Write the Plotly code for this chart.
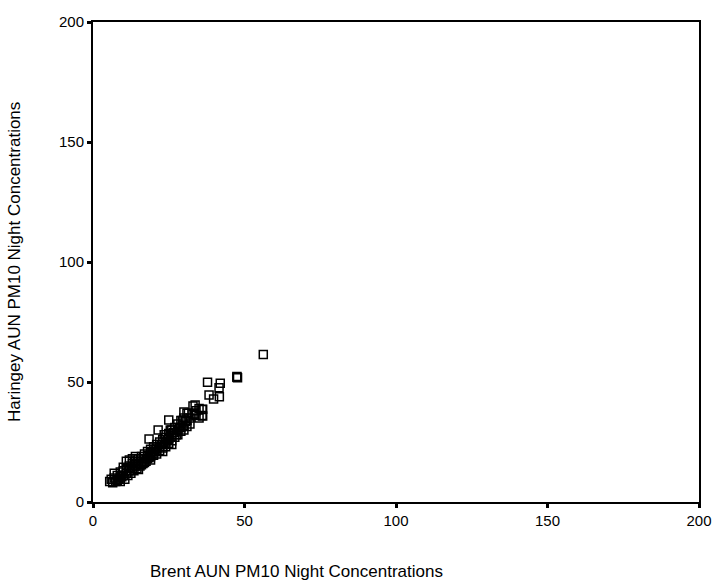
import plotly.graph_objects as go

brent = [5.5, 6, 6.5, 7, 7.5, 8, 8, 8.5, 9, 9, 9.5, 10, 10, 10.5, 11, 11, 11, 11.5, 12, 12, 12, 12.5,
         13, 13, 13, 13.5, 14, 14, 14, 14.5, 15, 15, 15, 15.5, 16, 16, 16, 16.5, 17, 17, 17, 17.5,
         18, 18, 18, 18.5, 18.5, 19, 19, 19, 19.5, 20, 20, 20, 20.5, 21, 21, 21, 21.5, 22, 22, 22,
         22.5, 23, 23, 23, 23.5, 24, 24, 24, 24.5, 25, 25, 25, 25, 25.5, 26, 26, 26, 26.5, 27, 27, 27,
         27.5, 28, 28, 28, 28.5, 29, 29, 29, 30, 30, 30, 30.5, 31, 31, 31, 32, 32, 33, 33, 34, 34, 35,
         35, 36, 36, 30, 29.5, 31.5, 37.8, 42, 41.6, 38.3, 39.8, 41.7, 47.5, 47.5, 47.7, 56.2,
         33.7, 36.2, 36.2, 33.6, 7, 9, 10, 12, 14, 16, 19, 21, 23, 26]
haringey = [8.5, 9.5, 8, 10, 8.5, 9, 11, 9.5, 8.5, 12.5, 10.5, 11, 13, 9.5, 12, 14, 17, 11, 13, 15, 17.5, 12,
            14, 16, 18, 13, 15, 17, 19, 14, 13.5, 16, 18, 15, 15.5, 17, 19, 16, 16.5, 18, 20, 17,
            18, 19.5, 21, 26.3, 18.5, 19, 20.5, 22, 20, 19.5, 21, 23, 22, 21, 22.5, 24, 30, 21.5, 23, 25,
            24, 22.5, 24, 26, 28, 23, 25, 27, 26, 34.2, 24.5, 26.5, 28.5, 30, 25.5, 27.5, 30, 29, 27, 29, 31,
            28, 28, 30, 32.5, 31, 29.5, 31, 34, 30, 32, 35, 33.5, 31.5, 34, 37, 32.5, 35, 36.5, 40, 36, 38, 35,
            39, 38.5, 36, 37.5, 34, 37, 49.9, 49.5, 47.6, 44.6, 42.9, 43.9, 52, 52.3, 51.8, 61.5,
            40.4, 38.6, 35.8, 36.7, 12, 10, 14.5, 14, 16, 18, 17.5, 20, 21, 24]
tick_vals = [0, 50, 100, 150, 200]
x_title = "Brent AUN PM10 Night Concentrations"
y_title = "Haringey AUN PM10 Night Concentrations"

FONT = "Liberation Sans, Arial, sans-serif"

fig = go.Figure(go.Scatter(
    x=brent, y=haringey, mode="markers",
    marker=dict(symbol="square-open", size=8, color="black", line=dict(width=1.5, color="black")),
    showlegend=False,
))

axis_common = dict(
    range=[0, 200], tickvals=tick_vals, ticks="outside", ticklen=4, tickwidth=3,
    tickcolor="black", showline=True, linecolor="black", linewidth=2, mirror=True,
    showgrid=False, zeroline=False, automargin=False,
    tickfont=dict(family=FONT, size=15, color="black"),
)
fig.update_xaxes(**axis_common)
fig.update_yaxes(**axis_common)

fig.update_layout(
    width=718, height=587,
    margin=dict(l=93, r=19, t=22, b=85, autoexpand=False),
    paper_bgcolor="white", plot_bgcolor="white",
    font=dict(family=FONT, color="black"),
    annotations=[
        dict(text=x_title, x=(148 - 93) / 606, y=(502 - 571) / 480, xref="paper", yref="paper",
             xanchor="left", yanchor="middle", showarrow=False,
             font=dict(family=FONT, size=17, color="black")),
        dict(text=y_title, x=(14 - 93) / 606, y=0.5, xref="paper", yref="paper",
             xanchor="center", yanchor="middle", textangle=-90, showarrow=False,
             font=dict(family=FONT, size=17, color="black")),
    ],
)

# remove the page's default body margin so the figure fills the window exactly
fig.write_html(
    "out.html",
    config={"displayModeBar": False},
    post_script="document.body.style.margin='0';document.body.style.overflow='hidden';",
)
